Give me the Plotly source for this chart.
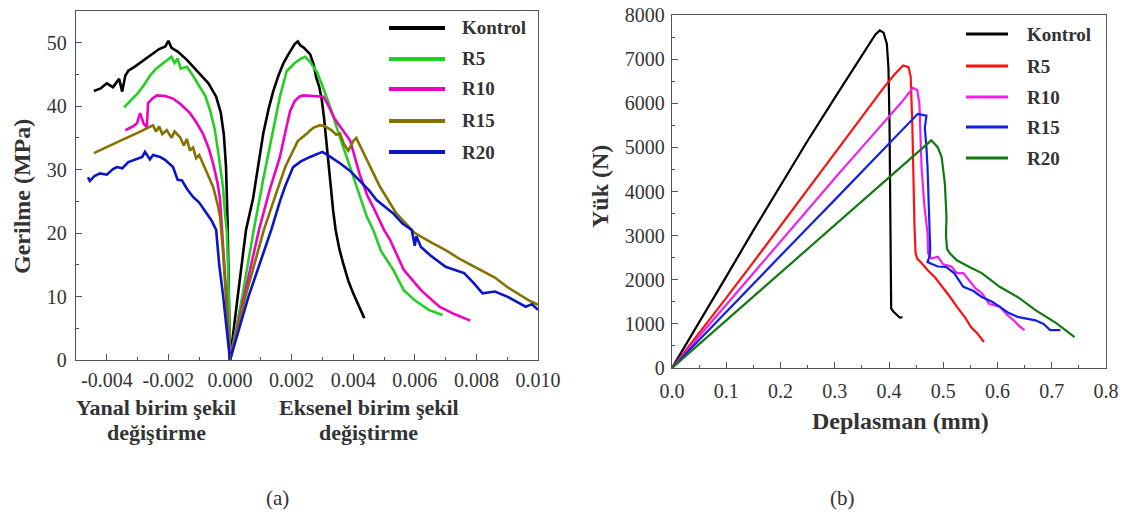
import plotly.graph_objects as go

W, H = 1130, 516

# ---------------- Panel (a): stress vs strain ----------------
series_a = ["Kontrol", "R5", "R10", "R15", "R20"]
colors_a = ["#000000", "#22d022", "#f000c0", "#857200", "#0a14c8"]

kontrol_lat_x = [-0.00442, -0.0042, -0.0040, -0.0038, -0.0036, -0.0035, -0.0034, -0.0033, -0.0031, -0.0029,
                 -0.0027, -0.0025, -0.0023, -0.0021, -0.0020, -0.0019, -0.0017, -0.0014, -0.0010, -0.0007,
                 -0.00045, -0.0003, -0.0002, -0.00013, -0.00008, -0.00004, 0.0]
kontrol_lat_y = [42.4, 42.8, 43.6, 43.0, 44.3, 42.3, 44.8, 45.6, 46.2, 46.9,
                 47.6, 48.3, 49.0, 49.4, 50.3, 49.2, 48.6, 47.3, 45.2, 43.6,
                 41.5, 39.0, 35.5, 30.5, 22.0, 12.0, 0.0]
kontrol_ax_x = [0.0, 0.00025, 0.00052, 0.00075, 0.0009, 0.00108, 0.00125, 0.0014, 0.00157, 0.00173,
                0.0019, 0.00205, 0.0021, 0.0022, 0.00228, 0.0024, 0.0026, 0.00272, 0.0028, 0.0029,
                0.00298, 0.00305, 0.00315, 0.00325, 0.00335, 0.00343, 0.00355, 0.00367, 0.00384, 0.0040,
                0.00412, 0.00425, 0.00436]
kontrol_ax_y = [0.0, 10.0, 20.5, 25.5, 30.5, 35.7, 39.5, 42.3, 44.8, 46.7,
                48.2, 49.3, 49.8, 50.2, 49.6, 49.2, 48.2, 46.5, 44.5, 43.0,
                41.0, 38.3, 33.0, 27.8, 23.5, 20.5, 17.5, 15.3, 12.5, 10.5,
                9.1, 7.8, 6.6]

r5_lat_x = [-0.00344, -0.0032, -0.0030, -0.0028, -0.0026, -0.0024, -0.0022, -0.00205, -0.0019, -0.0018,
            -0.0017, -0.0016, -0.0014, -0.0012, -0.00097, -0.0008, -0.00065, -0.0005, -0.00039, -0.0003,
            -0.00023, -0.00016, -0.0001, -0.00005, 0.0]
r5_lat_y = [39.8, 41.0, 42.0, 43.3, 44.8, 45.9, 46.7, 47.3, 47.8, 46.8,
            47.5, 45.9, 46.2, 44.8, 43.0, 41.6, 39.4, 36.5, 33.0, 30.0,
            27.3, 23.0, 20.0, 12.0, 0.0]
r5_ax_x = [0.0, 0.0004, 0.00077, 0.0011, 0.0014, 0.00162, 0.00184, 0.0021, 0.0023, 0.00244,
           0.0026, 0.00282, 0.00298, 0.00314, 0.0033, 0.00346, 0.00379, 0.00411, 0.00444, 0.00465,
           0.0049, 0.0053, 0.00564, 0.0060, 0.00645, 0.0069]
r5_ax_y = [0.0, 10.0, 20.5, 29.0, 36.0, 41.5, 45.5, 46.8, 47.5, 47.8,
           47.0, 45.4, 43.5, 41.5, 39.2, 36.7, 32.0, 27.3, 22.6, 20.5,
           17.2, 14.2, 11.0, 9.4, 7.9, 7.1]

r10_lat_x = [-0.0034, -0.00315, -0.00302, -0.00292, -0.0028, -0.0027, -0.00266, -0.0025, -0.00237, -0.0021,
             -0.00185, -0.0016, -0.0013, -0.0011, -0.00088, -0.0007, -0.00055, -0.0004, -0.00032, -0.00023,
             -0.00015, -0.00008, 0.0]
r10_lat_y = [36.2, 36.8, 37.3, 38.9, 37.2, 36.7, 40.5, 41.3, 41.7, 41.6,
             41.2, 40.3, 38.9, 37.5, 35.7, 33.5, 31.0, 27.8, 25.2, 18.9,
             13.0, 7.0, 0.0]
r10_ax_x = [0.0, 0.00045, 0.00094, 0.0013, 0.00162, 0.0018, 0.00195, 0.0021, 0.00225, 0.00238,
            0.0027, 0.00303, 0.00315, 0.00325, 0.00338, 0.0035, 0.0037, 0.0039, 0.0042, 0.00445,
            0.00465, 0.0050, 0.0052, 0.00564, 0.0062, 0.0068, 0.0073, 0.0078]
r10_ax_y = [0.0, 10.0, 20.5, 27.0, 32.0, 36.0, 39.2, 40.8, 41.5, 41.7,
            41.6, 41.5, 40.5, 39.4, 38.2, 37.3, 36.0, 34.6, 29.4, 26.0,
            24.1, 20.5, 18.9, 14.2, 11.0, 8.4, 7.2, 6.2]

r15_lat_x = [-0.00442, -0.0040, -0.0035, -0.0030, -0.0027, -0.0025, -0.0024, -0.0023, -0.0022, -0.00205,
             -0.0019, -0.0018, -0.00162, -0.0015, -0.0014, -0.0013, -0.0012, -0.0011, -0.0010, -0.00088,
             -0.0007, -0.00055, -0.0004, -0.00032, -0.00023, -0.00015, -0.00008, 0.0]
r15_lat_y = [32.6, 33.6, 34.7, 35.8, 36.5, 37.0, 36.0, 36.8, 35.6, 36.2,
             35.0, 36.0, 35.1, 33.8, 34.8, 33.0, 33.5, 31.8, 32.3, 31.0,
             29.2, 27.3, 24.5, 22.5, 17.3, 12.0, 6.0, 0.0]
r15_ax_x = [0.0, 0.0005, 0.0011, 0.0014, 0.00162, 0.0018, 0.00205, 0.0022, 0.0025, 0.0027,
            0.00292, 0.0031, 0.0033, 0.00345, 0.00357, 0.0037, 0.00384, 0.0040, 0.0041, 0.0043,
            0.00444, 0.00465, 0.00487, 0.0054, 0.0059, 0.0060, 0.0065, 0.0070, 0.0075, 0.0081,
            0.0086, 0.0090, 0.0097, 0.0100]
r15_ax_y = [0.0, 10.0, 20.5, 25.0, 28.0, 30.5, 33.0, 34.5, 35.7, 36.6,
            37.0, 36.8, 36.2, 35.5, 35.7, 34.0, 33.0, 34.5, 35.0, 33.0,
            31.5, 29.5, 27.3, 23.1, 20.5, 20.0, 18.6, 17.3, 15.8, 14.2,
            13.0, 11.5, 9.4, 8.7]

r20_lat_x = [-0.00461, -0.00455, -0.0044, -0.00422, -0.0040, -0.0038, -0.00367, -0.0035, -0.0033, -0.00315,
             -0.0030, -0.00285, -0.00276, -0.0026, -0.0025, -0.00227, -0.0021, -0.00185, -0.0017, -0.00156,
             -0.0014, -0.0012, -0.0010, -0.00075, -0.0006, -0.00045, -0.00035, -0.00022, -0.00012, 0.0]
r20_lat_y = [28.8, 28.2, 29.0, 29.4, 29.2, 30.1, 30.4, 30.2, 31.2, 31.5,
             31.8, 32.0, 32.8, 31.6, 32.3, 32.0, 31.5, 30.4, 28.4, 28.3,
             27.0, 25.7, 24.8, 23.1, 22.0, 20.5, 15.0, 10.0, 5.0, 0.0]
r20_ax_x = [0.0, 0.0006, 0.00134, 0.00162, 0.0018, 0.00205, 0.0023, 0.0026, 0.0028, 0.0030,
            0.0032, 0.0034, 0.00357, 0.0039, 0.0042, 0.0045, 0.00476, 0.0050, 0.0053, 0.0056,
            0.0059, 0.0060, 0.00605, 0.0062, 0.0065, 0.0070, 0.0073, 0.0076, 0.0079, 0.0082,
            0.0086, 0.0090, 0.0093, 0.0096, 0.0098, 0.0100]
r20_ax_y = [0.0, 10.0, 20.5, 25.0, 27.5, 30.4, 31.3, 32.0, 32.4, 32.8,
            32.2, 31.6, 31.0, 29.8, 28.3, 26.8, 25.2, 24.2, 23.1, 21.5,
            20.5, 18.0, 19.5, 17.8, 16.5, 14.7, 14.2, 13.7, 12.2, 10.5,
            10.8, 10.0, 9.2, 8.4, 8.8, 7.9]

lat_x_a = [kontrol_lat_x, r5_lat_x, r10_lat_x, r15_lat_x, r20_lat_x]
lat_y_a = [kontrol_lat_y, r5_lat_y, r10_lat_y, r15_lat_y, r20_lat_y]
ax_x_a = [kontrol_ax_x, r5_ax_x, r10_ax_x, r15_ax_x, r20_ax_x]
ax_y_a = [kontrol_ax_y, r5_ax_y, r10_ax_y, r15_ax_y, r20_ax_y]

xticks_a = [-0.004, -0.002, 0.0, 0.002, 0.004, 0.006, 0.008, 0.010]
xticklabels_a = ["-0.004", "-0.002", "0.000", "0.002", "0.004", "0.006", "0.008", "0.010"]
yticks_a = [0, 10, 20, 30, 40, 50]

# ---------------- Panel (b): load vs displacement ----------------
series_b = ["Kontrol", "R5", "R10", "R15", "R20"]
colors_b = ["#000000", "#ff1010", "#f020f0", "#1020e6", "#107a10"]

kontrol_b_x = [0, 0.05, 0.1, 0.15, 0.2, 0.25, 0.3, 0.34, 0.36, 0.375, 0.383, 0.39, 0.396, 0.399, 0.401,
               0.402, 0.402, 0.403, 0.404, 0.408, 0.414, 0.42, 0.425]
kontrol_b_y = [0, 1020, 2070, 3120, 4150, 5150, 6120, 6900, 7280, 7560, 7650, 7600, 7350, 6800, 5500,
               4000, 2500, 1500, 1350, 1280, 1200, 1140, 1150]
r5_b_x = [0, 0.05, 0.1, 0.15, 0.2, 0.25, 0.3, 0.35, 0.39, 0.41, 0.426, 0.436, 0.44, 0.443, 0.445,
          0.447, 0.449, 0.452, 0.46, 0.471, 0.485, 0.499, 0.512, 0.525, 0.54, 0.551, 0.563, 0.575]
r5_b_y = [0, 790, 1590, 2400, 3220, 4050, 4880, 5700, 6350, 6650, 6855, 6820, 6600, 5500, 4200,
          3200, 2600, 2480, 2380, 2220, 2050, 1840, 1620, 1390, 1150, 930, 780, 590]
r10_b_x = [0, 0.05, 0.1, 0.15, 0.2, 0.25, 0.3, 0.35, 0.4, 0.425, 0.444, 0.452, 0.456, 0.458, 0.46,
           0.465, 0.471, 0.472, 0.478, 0.49, 0.5, 0.515, 0.525, 0.537, 0.55, 0.56, 0.571, 0.585,
           0.604, 0.618, 0.63, 0.64, 0.65]
r10_b_y = [0, 720, 1440, 2160, 2880, 3590, 4300, 5000, 5700, 6050, 6350, 6300, 6000, 5200, 4550,
           3700, 3050, 2600, 2480, 2520, 2350, 2300, 2150, 2150, 1950, 1800, 1700, 1450,
           1390, 1200, 1080, 950, 860]
r15_b_x = [0, 0.05, 0.1, 0.15, 0.2, 0.25, 0.3, 0.35, 0.4, 0.43, 0.453, 0.469, 0.466, 0.469, 0.471,
           0.475, 0.476, 0.475, 0.471, 0.48, 0.49, 0.505, 0.52, 0.537, 0.555, 0.571, 0.59, 0.604,
           0.62, 0.637, 0.655, 0.67, 0.685, 0.697, 0.716]
r15_b_y = [0, 640, 1270, 1910, 2550, 3180, 3810, 4450, 5080, 5470, 5760, 5720, 5440, 5000, 4550,
           3050, 2700, 2550, 2400, 2350, 2300, 2290, 2150, 1840, 1750, 1610, 1500, 1390,
           1250, 1160, 1120, 1080, 1000, 860, 860]
r20_b_x = [0, 0.05, 0.1, 0.15, 0.2, 0.25, 0.3, 0.35, 0.4, 0.44, 0.478, 0.49, 0.497, 0.503, 0.506,
           0.505, 0.507, 0.512, 0.525, 0.55, 0.571, 0.604, 0.637, 0.67, 0.709, 0.742]
r20_b_y = [0, 540, 1080, 1620, 2160, 2700, 3240, 3780, 4320, 4750, 5160, 5000, 4780, 4180, 3420,
           3000, 2700, 2600, 2440, 2280, 2150, 1840, 1610, 1310, 1010, 700]

x_b = [kontrol_b_x, r5_b_x, r10_b_x, r15_b_x, r20_b_x]
y_b = [kontrol_b_y, r5_b_y, r10_b_y, r15_b_y, r20_b_y]

xticks_b = [0.0, 0.1, 0.2, 0.3, 0.4, 0.5, 0.6, 0.7, 0.8]
xticklabels_b = ["0.0", "0.1", "0.2", "0.3", "0.4", "0.5", "0.6", "0.7", "0.8"]
yticks_b = [0, 1000, 2000, 3000, 4000, 5000, 6000, 7000, 8000]

# ---------------- Figure ----------------
SERIF = "Liberation Serif"
TXT = "#333333"
FRAME = "#555555"

def px_x(p):
    return p / W

def px_y(p):
    return 1 - p / H

fig = go.Figure()

for i, name in enumerate(series_a):
    xs = list(lat_x_a[i]) + list(ax_x_a[i][1:])
    ys = list(lat_y_a[i]) + list(ax_y_a[i][1:])
    fig.add_trace(go.Scatter(x=xs, y=ys, mode="lines", name=name, showlegend=False,
                             line=dict(color=colors_a[i], width=2.6), xaxis="x", yaxis="y"))

for i, name in enumerate(series_b):
    fig.add_trace(go.Scatter(x=x_b[i], y=y_b[i], mode="lines", name=name, showlegend=False,
                             line=dict(color=colors_b[i], width=2.2), xaxis="x2", yaxis="y2"))

axis_common = dict(showline=True, linecolor=FRAME, linewidth=1.3, mirror=True, ticks="inside",
                   ticklen=6, tickwidth=1.3, tickcolor=FRAME, showgrid=False, zeroline=False,
                   automargin=False,
                   tickfont=dict(family=SERIF, size=20, color=TXT))

fig.update_layout(
    width=W, height=H, margin=dict(l=0, r=0, t=0, b=0, pad=0, autoexpand=False),
    paper_bgcolor="white", plot_bgcolor="white",
    font=dict(family=SERIF, size=20, color=TXT),
    xaxis=dict(domain=[px_x(76), px_x(538)], range=[-0.005, 0.010], anchor="y",
               tickvals=xticks_a, ticktext=xticklabels_a, ticklabelstandoff=2,
               minor=dict(dtick=0.001, ticks="inside", ticklen=3, tickcolor=FRAME, tick0=0),
               **axis_common),
    yaxis=dict(domain=[px_y(360), px_y(11)], range=[0, 55], anchor="x",
               tickvals=yticks_a, ticklabelstandoff=4,
               minor=dict(dtick=5, ticks="inside", ticklen=3, tickcolor=FRAME, tick0=0),
               **axis_common),
    xaxis2=dict(domain=[px_x(672), px_x(1106)], range=[0, 0.8], anchor="y2",
                tickvals=xticks_b, ticktext=xticklabels_b, ticklabelstandoff=5,
                minor=dict(dtick=0.05, ticks="inside", ticklen=3, tickcolor=FRAME, tick0=0),
                **axis_common),
    yaxis2=dict(domain=[px_y(368), px_y(15)], range=[0, 8000], anchor="x2",
                tickvals=yticks_b, ticklabelstandoff=2,
                minor=dict(dtick=500, ticks="inside", ticklen=3, tickcolor=FRAME, tick0=0),
                **axis_common),
)

annotations = []
shapes = []

def ann(text, x, y, size, bold=True, angle=0, xanchor="center"):
    t = "<b>%s</b>" % text if bold else text
    annotations.append(dict(text=t, x=px_x(x), y=px_y(y), xref="paper", yref="paper",
                            xanchor=xanchor, yanchor="middle", showarrow=False, textangle=angle,
                            font=dict(family=SERIF, size=size, color=TXT)))

# axis titles
ann("Gerilme (MPa)", 22, 197, 24, angle=-90)
ann("Yanal birim şekil", 156, 407, 22)
ann("değiştirme", 156, 432, 22)
ann("Eksenel birim şekil", 369, 407, 22)
ann("değiştirme", 369, 432, 22)
ann("Yük (N)", 600, 187, 24, angle=-90)
ann("Deplasman (mm)", 900, 421, 24)
ann("(a)", 277, 498, 21, bold=False)
ann("(b)", 842, 498, 21, bold=False)

# legends
leg_rows_a = [28, 59, 89, 121, 152]
for i, name in enumerate(series_a):
    y = leg_rows_a[i]
    shapes.append(dict(type="line", xref="paper", yref="paper", x0=px_x(389), x1=px_x(445),
                       y0=px_y(y), y1=px_y(y), line=dict(color=colors_a[i], width=4)))
    ann(name, 460, y, 19, xanchor="left")

leg_rows_b = [34, 66, 97, 127, 158]
for i, name in enumerate(series_b):
    y = leg_rows_b[i]
    shapes.append(dict(type="line", xref="paper", yref="paper", x0=px_x(966), x1=px_x(1008),
                       y0=px_y(y), y1=px_y(y), line=dict(color=colors_b[i], width=3)))
    ann(name, 1025, y, 19, xanchor="left")

fig.update_layout(annotations=annotations, shapes=shapes)

fig.write_html("out.html")
